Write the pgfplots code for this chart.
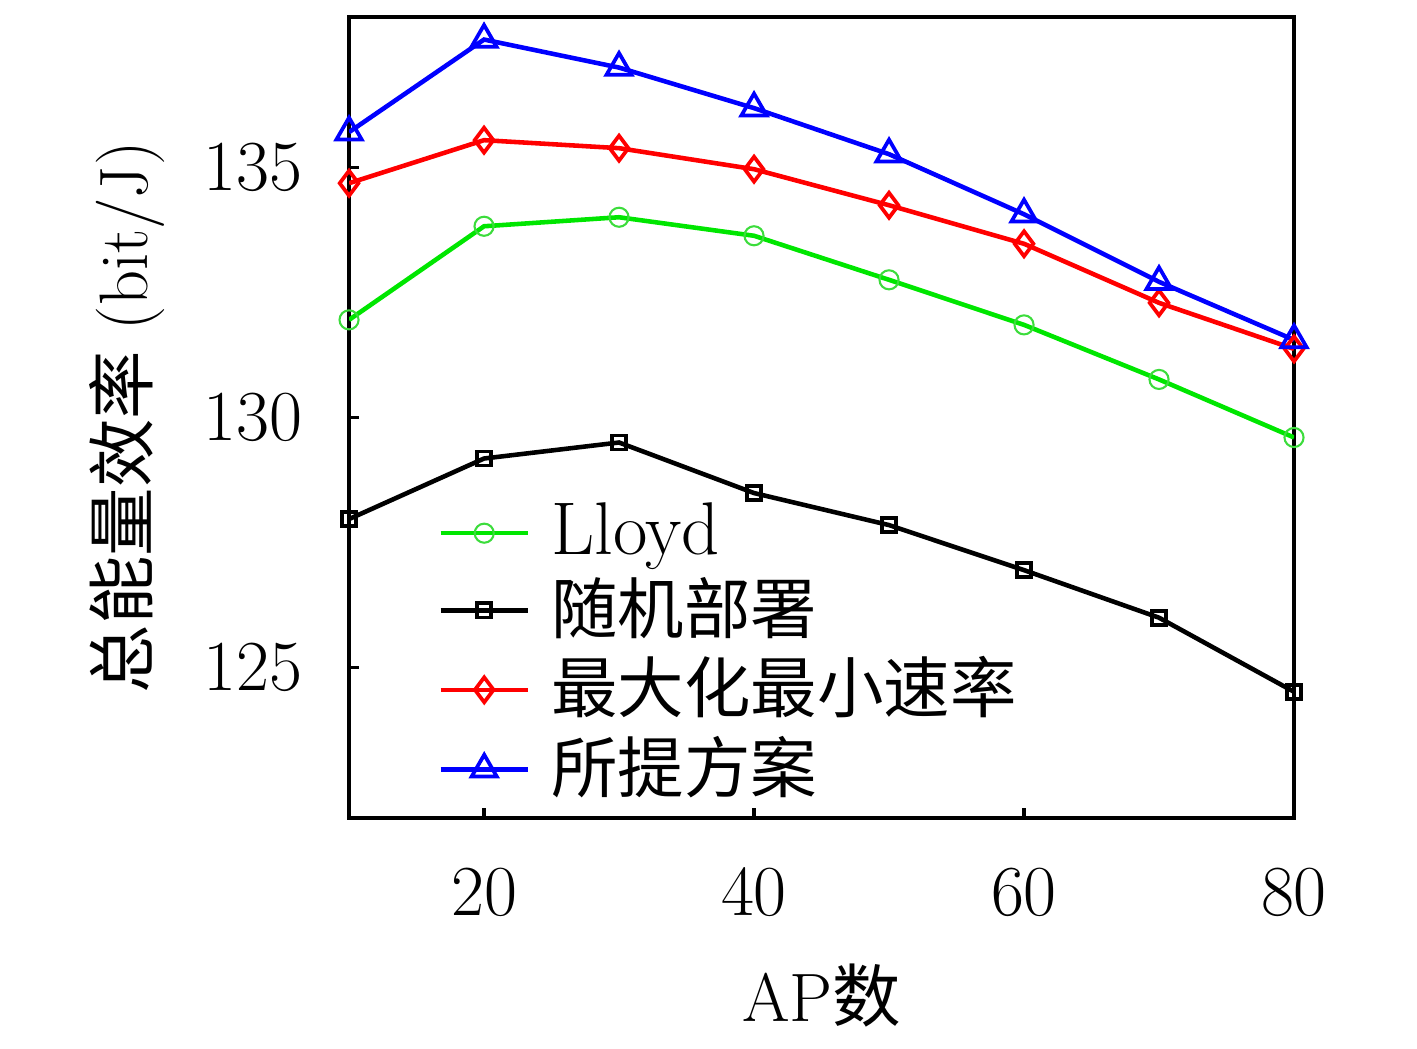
\documentclass[border=0pt]{standalone}
\usepackage{fontspec}
\newfontfamily\cjk{Noto Sans CJK SC}
\usepackage{pgfplots}
\pgfplotsset{compat=1.18}
\begin{document}
\fontsize{16}{19}\selectfont
\begin{tikzpicture}
\useasboundingbox (-2.955,-1.956) rectangle (9.041,6.924);
\begin{axis}[
  scale only axis, width=8.0cm, height=6.78cm,
  xmin=10, xmax=80, ymin=122, ymax=138,
  xtick={20,40,60,80}, ytick={125,130,135},
  xtick pos=bottom, ytick pos=left,
  tick align=inside, major tick length=0.08cm,
  axis line style={line width=1pt}, tick style={line width=0.8pt,black},
  tick label style={font=\fontsize{16}{19}\selectfont},
  xticklabel style={yshift=-0.24cm},
  yticklabel style={xshift=-0.2cm},
  xlabel={AP{\cjk 数}}, ylabel={{\cjk 总能量效率} (bit/J)},
  label style={font=\fontsize{16.5}{19}\selectfont},
  xlabel style={at={(axis description cs:0.5,0)}, anchor=center, yshift=-1.5cm},
  ylabel style={yshift=-0.05cm},
  legend cell align=left,
  legend style={draw=none, fill=none, at={(0.0935,0.008)}, anchor=south west,
    font=\fontsize{16}{19}\selectfont, row sep=-0.8pt, inner sep=0pt,
    nodes={inner xsep=0.18cm}},
  legend image code/.code={\draw[mark repeat=2,mark phase=2] plot coordinates {(0cm,0cm) (0.37cm,0cm) (0.74cm,0cm)};},
]
\addplot[color={rgb,255:red,0;green,230;blue,0}, line width=1.1pt, mark=o, mark size=2.3pt, mark options={line width=0.5pt, color={rgb,255:red,60;green,220;blue,60}}] coordinates {
(10,131.95) (20,133.82) (30,134.00) (40,133.63) (50,132.75) (60,131.85) (70,130.76) (80,129.60)};
\addlegendentry{{\fontsize{18}{19}\selectfont Lloyd}}
\addplot[black, line width=1.1pt, mark=square, mark size=1.7pt, mark options={line width=0.9pt}] coordinates {
(10,127.97) (20,129.18) (30,129.50) (40,128.49) (50,127.85) (60,126.95) (70,126.00) (80,124.52)};
\addlegendentry{\cjk 随机部署}
\addplot[red, line width=1.1pt, mark=diamond, mark size=3pt, mark options={line width=0.9pt}] coordinates {
(10,134.68) (20,135.54) (30,135.38) (40,134.96) (50,134.24) (60,133.47) (70,132.29) (80,131.37)};
\addlegendentry{\cjk 最大化最小速率}
\addplot[blue, line width=1.1pt, mark=triangle, mark size=3.5pt, mark options={line width=0.9pt}] coordinates {
(10,135.70) (20,137.55) (30,136.99) (40,136.18) (50,135.26) (60,134.06) (70,132.71) (80,131.55)};
\addlegendentry{\cjk 所提方案}
\end{axis}
\end{tikzpicture}
\end{document}
